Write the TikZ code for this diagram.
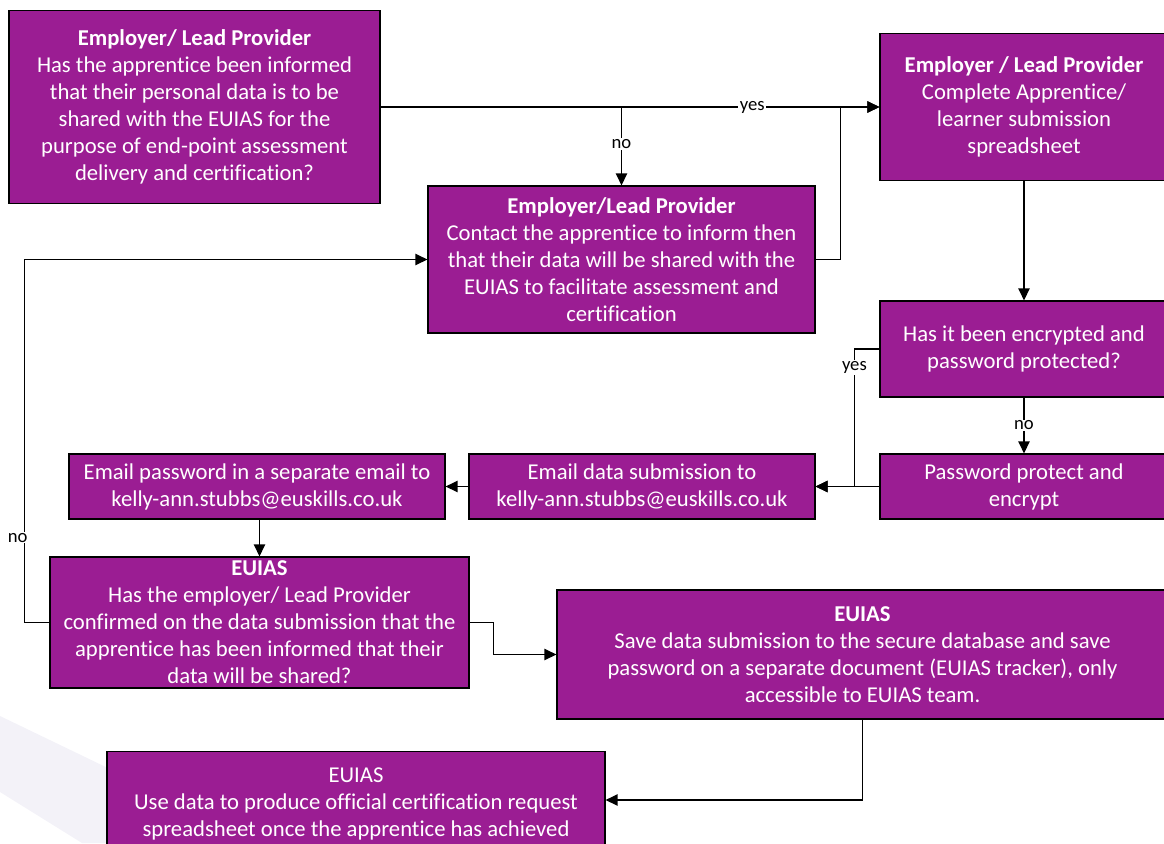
\documentclass[tikz,border=0pt]{standalone}
\usepackage{fontspec}
\setmainfont{Carlito}[Ligatures=CommonOff]
\usetikzlibrary{arrows.meta}
\definecolor{boxpurple}{RGB}{155,29,147}
\definecolor{wmark}{RGB}{243,242,248}
\tikzset{
  box/.style={draw=black, line width=0.9pt, fill=boxpurple, text=white, align=center,
    inner sep=0pt, font=\fontsize{17}{20.25}\selectfont},
  conn/.style={draw=black, line width=1pt, -{Triangle[length=9pt,width=8.5pt]}},
  lbl/.style={fill=white, inner sep=1pt, font=\fontsize{14}{16}\selectfont}
}
\begin{document}
\begin{tikzpicture}[x=0.75pt,y=-0.75pt]
\useasboundingbox (0,0) rectangle (1164,843);
% faint watermark
\fill[wmark] (0,716) -- (112,770) -- (112,843) -- (82,843) -- (0,792) -- cycle;

\node[box, minimum width=278.25pt, minimum height=144.75pt] (A) at (194.5,107)
  {\textbf{Employer/ Lead Provider}\\Has the apprentice been informed\\that their personal data is to be\\shared with the EUIAS for the\\purpose of end-point assessment\\delivery and certification?};
\node[box, minimum width=290.25pt, minimum height=110.25pt] (B) at (621.5,259.5)
  {\textbf{Employer/Lead Provider}\\Contact the apprentice to inform then\\that their data will be shared with the\\EUIAS to facilitate assessment and\\certification};
\node[box, minimum width=216pt, minimum height=110.25pt] (C) at (1024,107)
  {\textbf{Employer / Lead Provider}\\Complete Apprentice/\\learner submission\\spreadsheet};
\node[box, minimum width=216pt, minimum height=72pt] (D) at (1024,349)
  {Has it been encrypted and\\password protected?};
\node[box, minimum width=216pt, minimum height=48.75pt] (E) at (1024,486.5)
  {Password protect and\\encrypt};
\node[box, minimum width=259.5pt, minimum height=48.75pt] (F) at (642,486.5)
  {Email data submission to\\kelly-ann.stubbs@euskills.co.uk};
\node[box, minimum width=282pt, minimum height=48.75pt] (G) at (257,486.5)
  {Email password in a separate email to\\kelly-ann.stubbs@euskills.co.uk};
\node[box, minimum width=314.25pt, minimum height=98.25pt] (H) at (259.5,622.5)
  {\textbf{EUIAS}\\Has the employer/ Lead Provider\\confirmed on the data submission that the\\apprentice has been informed that their\\data will be shared?};
\node[box, minimum width=458.25pt, minimum height=96.75pt] (I) at (862.5,654.5)
  {\textbf{EUIAS}\\Save data submission to the secure database and save\\password on a separate document (EUIAS tracker), only\\accessible to EUIAS team.};
\node[box, minimum width=373.5pt, anchor=north, inner ysep=12.5pt] (J) at (356,751)
  {EUIAS\\Use data to produce official certification request\\spreadsheet once the apprentice has achieved};
\coordinate (Jin) at ([yshift=-36.75pt]J.north east);

% connectors
\draw[conn] (A.east) -- node[lbl, pos=0.745] {yes} (A.east -| C.west);
\draw[conn] (A.east -| B.north) -- node[lbl, pos=0.47] {no} (B.north);
\draw[conn] (B.east) -- ++(25,0) |- (C.west);
\draw[conn] (C.south) -- (D.north);
\draw[conn] (D.south) -- node[lbl, pos=0.5] {no} (E.north);
\draw[conn] (D.west) -- ++(-25,0) |- node[lbl, pos=0.066] {yes} (F.east);
\draw[conn] (E.west) -- (F.east);
\draw[conn] (F.west) -- (G.east);
\draw[conn] (G.south -| H.north) -- (H.north);
\draw[conn] (H.west) -- ++(-25,0) |- node[lbl, pos=0.117, xshift=-5pt] {no} (B.west);
\draw[conn] (H.east) -- ++(24,0) |- (I.west);
\draw[conn] (I.south) |- (Jin);
\end{tikzpicture}
\end{document}
